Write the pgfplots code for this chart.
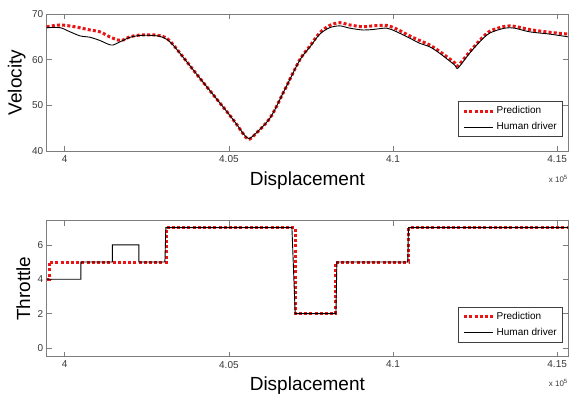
\documentclass[border=0pt]{standalone}
\usepackage{pgfplots}
\pgfplotsset{compat=1.18}
\usepackage{fontspec}
\setmainfont{Liberation Sans}
\setsansfont{Liberation Sans}
\definecolor{predred}{RGB}{235,20,20}
\definecolor{axgray}{RGB}{125,125,125}
\definecolor{tickgray}{RGB}{55,55,55}
\pgfplotsset{
  myaxis/.style={
    scale only axis, width=521.3pt,
    xmin=3.9945, xmax=4.1533,
    scaled ticks=false,
    xtick={4,4.05,4.1,4.15}, xticklabels={4,4.05,4.1,4.15},
    tick align=inside, major tick length=5pt,
    axis line style={draw=axgray, line width=0.8pt},
    every tick/.style={draw=axgray, line width=0.6pt},
    ticklabel style={font=\fontsize{10}{12}\selectfont, text=tickgray},
    xticklabel style={yshift=-0.8pt},
    label style={font=\fontsize{19}{22}\selectfont},
    xlabel={Displacement},
    legend style={at={(axis description cs:1,0)}, anchor=south east,
      xshift=-5pt, yshift=14pt, draw=black!75, line width=0.6pt,
      font=\fontsize{10}{12}\selectfont, inner xsep=4pt, inner ysep=1.5pt,
      nodes={inner ysep=3pt, text height=7.5pt, text depth=2.5pt}},
    legend cell align=left,
    legend image code/.code={\draw[##1] (0pt,0pt) -- (29pt,0pt);},
  },
  predstyle/.style={draw=predred, line width=3pt, dash pattern=on 3pt off 2.2pt},
  humanstyle/.style={draw=black, line width=0.9pt},
}
\begin{document}
\begin{tikzpicture}
\useasboundingbox (0,0) rectangle (571pt,397pt);
\begin{axis}[myaxis, name=top,
  at={(46.7pt,246pt)}, anchor=south west, height=137pt,
  ymin=40, ymax=70, ytick={40,50,60,70}, yticklabels={40,50,60,70},
  ylabel={Velocity},
  ylabel style={at={(axis description cs:-0.048,0.5)}, anchor=base},
  xlabel style={at={(axis description cs:0.5,0)}, anchor=base, yshift=-35pt},
]
\addplot[predstyle, smooth, tension=0.5] coordinates {
(3.9945,67.2) (3.9986,67.6) (4.0031,67.2) (4.0077,66.5) (4.0107,66.1)
(4.0137,65.0) (4.0162,64.3) (4.0174,64.2) (4.0199,65.0) (4.0229,65.4)
(4.0275,65.4) (4.0305,64.9) (4.0330,63.3) (4.0412,55.9) (4.0494,48.6)
(4.0524,45.8) (4.0545,43.6) (4.0558,42.6) (4.0572,43.1) (4.0625,47.2)
(4.0670,53.4) (4.0716,60.0) (4.0747,63.0) (4.0777,65.9) (4.0807,67.5)
(4.0838,68.1) (4.0868,67.6) (4.0908,67.2) (4.0938,67.4) (4.0981,67.5)
(4.1011,66.7) (4.1051,65.2) (4.1081,64.2) (4.1112,63.2) (4.1142,61.8)
(4.1188,59.3) (4.1197,58.6) (4.1233,61.7) (4.1264,64.2) (4.1294,66.2)
(4.1340,67.3) (4.1370,67.3) (4.1416,66.6) (4.1477,66.0) (4.1533,65.6)
};
\addlegendentry{Prediction}
\addplot[humanstyle, smooth, tension=0.5] coordinates {
(3.9945,67.0) (3.9986,67.0) (4.0016,66.1) (4.0047,65.2) (4.0077,64.9)
(4.0107,64.2) (4.0132,63.4) (4.0147,63.2) (4.0168,63.9) (4.0199,64.9)
(4.0229,65.3) (4.0269,65.3) (4.0299,64.9) (4.0330,63.2) (4.0412,55.9)
(4.0494,48.6) (4.0524,45.8) (4.0545,43.7) (4.0558,42.8) (4.0572,43.2)
(4.0625,47.2) (4.0670,53.4) (4.0716,59.9) (4.0747,62.8) (4.0777,65.6)
(4.0807,67.0) (4.0838,67.4) (4.0868,66.9) (4.0908,66.5) (4.0938,66.6)
(4.0981,66.9) (4.1011,66.1) (4.1051,64.7) (4.1081,63.6) (4.1112,62.8)
(4.1142,61.4) (4.1188,58.8) (4.1197,58.1) (4.1233,61.4) (4.1264,63.9)
(4.1294,65.8) (4.1340,66.9) (4.1370,66.9) (4.1416,66.1) (4.1477,65.6)
(4.1533,65.0)
};
\addlegendentry{Human driver}
\end{axis}
\node[anchor=base east, font=\fontsize{8}{10}\selectfont, text=tickgray, inner sep=0pt]
  at ([yshift=-31.5pt]top.south east) {x 10\textsuperscript{5}};

\begin{axis}[myaxis, name=bot,
  at={(46.7pt,40.3pt)}, anchor=south west, height=136pt,
  ymin=-0.5, ymax=7.4, ytick={0,2,4,6}, yticklabels={0,2,4,6},
  ylabel={Throttle},
  ylabel style={at={(axis description cs:-0.032,0.5)}, anchor=base},
  xlabel style={at={(axis description cs:0.5,0)}, anchor=base, yshift=-33.3pt},
]
\addplot[predstyle] coordinates {
(3.9945,4) (3.9953,4) (3.9953,5) (4.0310,5) (4.0310,7) (4.0703,7)
(4.0703,2) (4.0825,2) (4.0825,5) (4.1048,5) (4.1048,7) (4.1533,7)
};
\addlegendentry{Prediction}
\addplot[humanstyle] coordinates {
(3.9945,4) (4.0049,4) (4.0049,5) (4.0145,5) (4.0145,6) (4.0226,6)
(4.0226,5) (4.0305,5) (4.0308,7) (4.0692,7) (4.0702,2) (4.0826,2)
(4.0829,5) (4.1045,5) (4.1047,7) (4.1533,7)
};
\addlegendentry{Human driver}
\end{axis}
\node[anchor=base east, font=\fontsize{8}{10}\selectfont, text=tickgray, inner sep=0pt]
  at ([yshift=-30pt]bot.south east) {x 10\textsuperscript{5}};
\end{tikzpicture}
\end{document}
